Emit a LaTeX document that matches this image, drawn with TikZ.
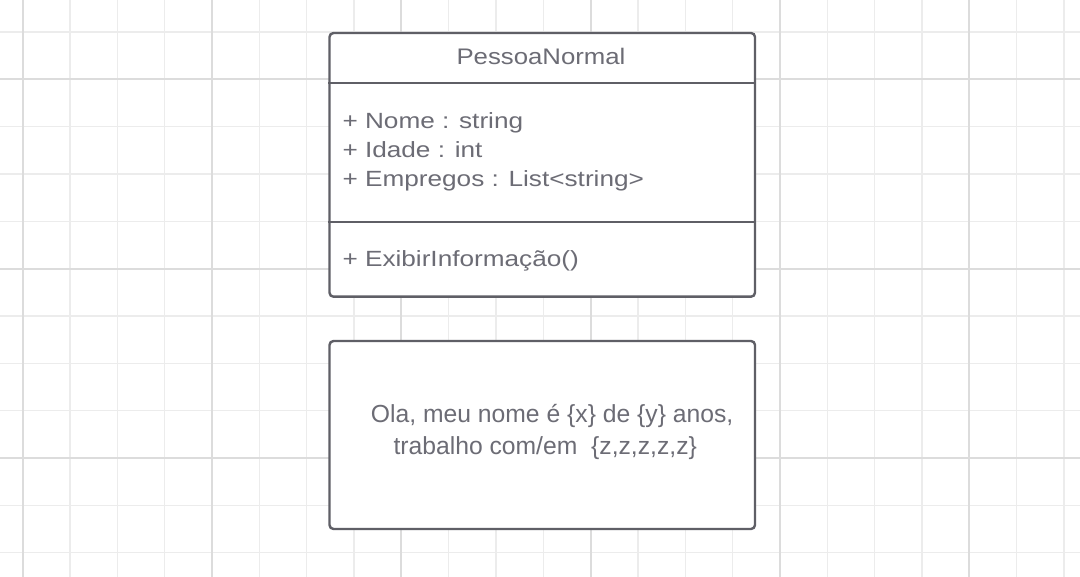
\documentclass[tikz,border=0pt]{standalone}
\usepackage{fontspec}
\setmainfont{Liberation Sans}
\newfontfamily\titlefont[FakeStretch=1.145]{Liberation Sans}
\newfontfamily\attrfont[FakeStretch=1.19]{Liberation Sans}
\definecolor{minorgrid}{HTML}{ECECEC}
\definecolor{majorgrid}{HTML}{DCDCDC}
\definecolor{boxcol}{HTML}{5F5F66}
\definecolor{txtcol}{HTML}{6C6C75}
\tikzset{
  minorline/.style={draw=minorgrid, line width=1.6pt},
  majorline/.style={draw=majorgrid, line width=1.8pt},
  umlbox/.style={draw=boxcol, line width=2.4pt, fill=white, rounded corners=4pt, rectangle, inner sep=0pt},
  divider/.style={draw=boxcol, line width=2.2pt},
  titletxt/.style={inner sep=0pt, text=txtcol, font=\titlefont\fontsize{22.5}{27}\selectfont},
  attrtxt/.style={inner sep=0pt, text=txtcol, font=\attrfont\fontsize{22}{27}\selectfont},
  notetxt/.style={inner sep=0pt, text=txtcol, font=\fontsize{24.7}{30}\selectfont}
}
\begin{document}
\begin{tikzpicture}[x=1pt,y=-1pt]
\useasboundingbox (0,0) rectangle (1080,577);
\fill[white] (0,0) rectangle (1080,577);
% grid
\foreach \i in {0,...,22} {
  \pgfmathsetmacro\xx{22.7+47.33*\i}
  \draw[minorline] (\xx,0) -- (\xx,577);
}
\foreach \i in {0,...,11} {
  \pgfmathsetmacro\yy{32+47.33*\i}
  \draw[minorline] (0,\yy) -- (1080,\yy);
}
\foreach \i in {0,...,5} {
  \pgfmathsetmacro\xx{22.7+189.33*\i}
  \draw[majorline] (\xx,0) -- (\xx,577);
}
\foreach \i in {0,...,2} {
  \pgfmathsetmacro\yy{79.3+189.33*\i}
  \draw[majorline] (0,\yy) -- (1080,\yy);
}
% class box
\node[umlbox, minimum width=425.5pt, minimum height=263.7pt] (cls) at (542.25,164.85) {};
\coordinate (d1) at (0,83.3);
\coordinate (d2) at (0,222.3);
\draw[divider] (cls.west |- d1) -- (cls.east |- d1);
\draw[divider] (cls.west |- d2) -- (cls.east |- d2);
\node[titletxt, anchor=base] (title) at (541,64.3) {PessoaNormal};
\node[attrtxt, anchor=base west] (a1) at (342.3,128.4) {+ Nome : string};
\node[attrtxt, anchor=base west] (a2) at (342.3,157.4) {+ Idade : int};
\node[attrtxt, anchor=base west] (a3) at (342.3,186.6) {+ Empregos : List<string>};
\node[attrtxt, anchor=base west] (m1) at (342.3,266.5) {+ ExibirInformação()};
% note box
\node[umlbox, minimum width=425.5pt, minimum height=188pt] (note) at (542.25,435) {};
\node[notetxt, anchor=base west] (n1) at (370.7,422.6) {Ola, meu nome é \{x\} de \{y\} anos,};
\node[notetxt, anchor=base west] (n2) at (393.3,455) {trabalho com/em\ \ \{z,z,z,z,z\}};
\end{tikzpicture}
\end{document}
